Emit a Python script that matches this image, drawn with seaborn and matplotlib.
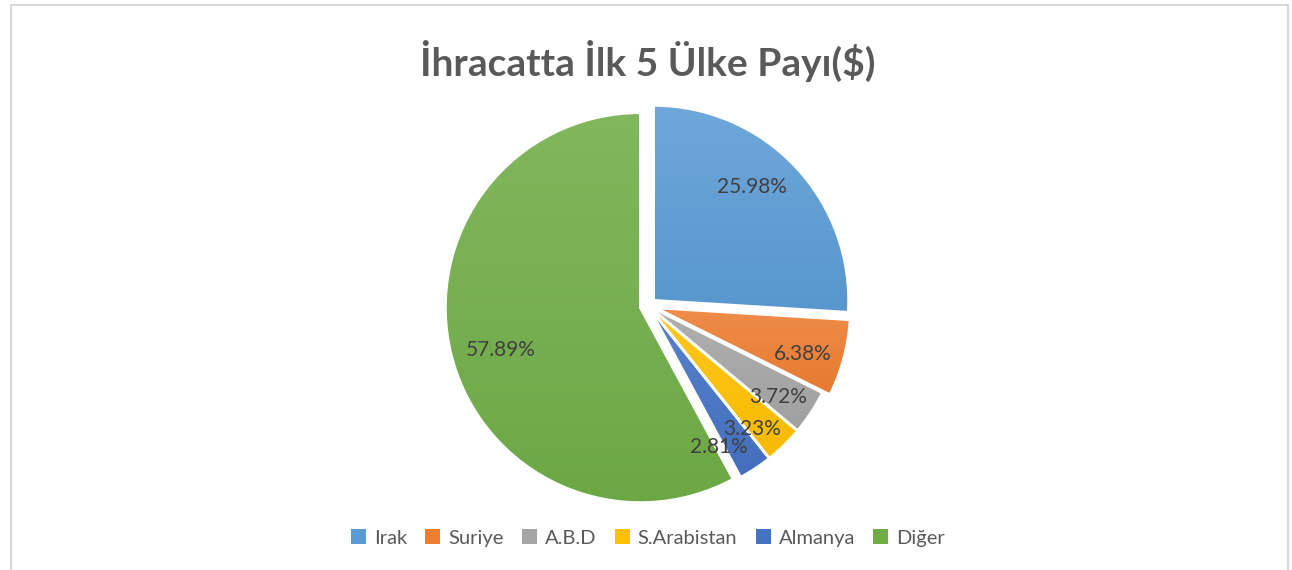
import matplotlib
matplotlib.use("Agg")
import numpy as np
import matplotlib.pyplot as plt
import seaborn as sns
from matplotlib.patches import Rectangle, Patch
from matplotlib.colors import to_rgb

# ------------- Data -------------
countries = ["Irak", "Suriye", "A.B.D", "S.Arabistan", "Almanya", "Diğer"]
shares = [25.98, 6.38, 3.72, 3.23, 2.81, 57.89]
exploded = [0.04, 0.04, 0.0, 0.0, 0.0, 0.04]
colors = ["#5B9BD5", "#ED7D31", "#A5A5A5", "#FFC000", "#4472C4", "#70AD47"]
# label placement: distance from wedge centre and angle nudge (deg)
label_dist = [0.77, 0.79, 0.815, 0.83, 0.81, 0.75]
label_turn = [5.9, -2.4, -1.9, -4.2, -6.6, 2.6]
title = "İhracatta İlk 5 Ülke Payı($)"

# ------------- Style -------------
sns.set_theme(style="white")
plt.rcParams["font.family"] = ["Lato", "DejaVu Sans"]
palette = sns.color_palette(colors)

fig = plt.figure(figsize=(12.92, 5.70), dpi=100)
fig.patch.set_facecolor("white")

# chart border (bottom edge falls outside the picture)
fig.add_artist(Rectangle((11 / 1292, -0.05), 1277 / 1292, 1.05 - 5 / 570,
                         transform=fig.transFigure, fill=False,
                         edgecolor="#D9D9D9", linewidth=1.5))

# ------------- Pie -------------
total = sum(shares)
ax = fig.add_axes([0.3053, 0.0189, 0.3924, 0.8895])
wedges, texts, autotexts = ax.pie(
    shares,
    explode=exploded,
    colors=palette,
    startangle=90,
    counterclock=False,
    autopct=lambda p: f"{p * total / 100:.2f}%",
    pctdistance=0.78,
    wedgeprops={"edgecolor": "white", "linewidth": 2},
    textprops={"fontsize": 15, "color": "#404040", "zorder": 5},
)

# Excel-like soft vertical gradient inside each wedge
for w, c in zip(wedges, palette):
    base = np.array(to_rgb(c))
    top = base + (1 - base) * 0.12
    bottom = base * 0.97
    ext = w.get_path().get_extents()
    grad = np.linspace(0, 1, 64)[:, None, None]
    img = top * (1 - grad) + bottom * grad
    im = ax.imshow(img, extent=(ext.x0, ext.x1, ext.y0, ext.y1),
                   origin="upper", aspect="auto", zorder=1, interpolation="bilinear")
    im.set_clip_path(w)
    w.set_facecolor("none")
    w.set_zorder(2)

# place each percentage label along its wedge bisector
for w, t, d, turn in zip(wedges, autotexts, label_dist, label_turn):
    mid = np.deg2rad((w.theta1 + w.theta2) / 2 + turn)
    cx, cy = w.center
    t.set_position((cx + d * np.cos(mid), cy + d * np.sin(mid)))

ax.set_xlim(-1.3, 1.3)
ax.set_ylim(-1.3, 1.3)
ax.set_aspect("equal")
ax.axis("off")

fig.text(0.5015, 0.893, title, ha="center", va="center",
         fontsize=28, fontweight="bold", color="#595959")

handles = [Patch(facecolor=c, edgecolor="none") for c in palette]
leg = fig.legend(handles, countries, loc="center", bbox_to_anchor=(0.5015, 0.056),
                 ncol=6, frameon=False, fontsize=14.5, handlelength=0.75,
                 handleheight=0.75, handletextpad=0.4, columnspacing=0.9)
for t in leg.get_texts():
    t.set_color("#595959")

plt.savefig("out.png", dpi=100)
